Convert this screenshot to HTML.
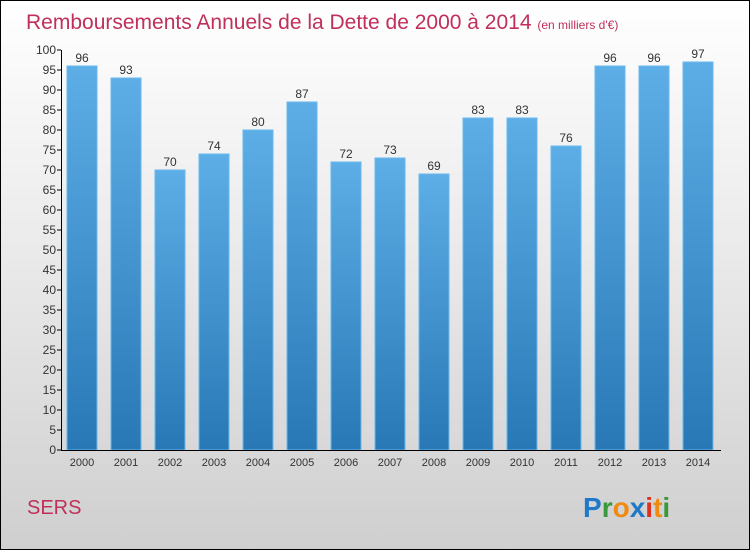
<!DOCTYPE html>
<html><head><meta charset="utf-8"><style>
html,body{margin:0;padding:0}
body{width:750px;height:550px;overflow:hidden;font-family:"Liberation Sans",sans-serif}
#frame{position:absolute;left:0;top:0;width:748px;height:548px;border:1px solid #000;background:linear-gradient(#ffffff,#e8e8e8 50%,#cfcfcf)}
</style></head><body>
<div id="frame">
<svg width="750" height="550" style="position:absolute;left:-1px;top:-1px" id="chart">
<defs><linearGradient id="bg" x1="0" y1="0" x2="0" y2="1"><stop offset="0" stop-color="#5daee6"/><stop offset="1" stop-color="#2878b6"/></linearGradient></defs>
<text x="26" y="29" font-size="21" fill="#c0305a">Remboursements Annuels de la Dette de 2000 à 2014 <tspan font-size="12">(en milliers d'€)</tspan></text>
<text x="27" y="514" font-size="20" fill="#c0305a">SERS</text>
<g id="plot"></g>
<text x="583" y="517" font-size="28" font-weight="bold"><tspan fill="#1f78c8">P</tspan><tspan fill="#3a9a3a">r</tspan><tspan fill="#f08a10">o</tspan><tspan fill="#1f78c8">x</tspan><tspan fill="#e03020">i</tspan><tspan fill="#f08a10">t</tspan><tspan fill="#3a9a3a">i</tspan></text>
</svg>
</div>
<script>
const categories=["2000","2001","2002","2003","2004","2005","2006","2007","2008","2009","2010","2011","2012","2013","2014"];
const values=[96,93,70,74,80,87,72,73,69,83,83,76,96,96,97];
const yTicks=[0,5,10,15,20,25,30,35,40,45,50,55,60,65,70,75,80,85,90,95,100];
const NS="http://www.w3.org/2000/svg";
const g=document.getElementById('plot');
const y=v=>450-v*4;
const x=i=>82+i*44;
function mk(t,a){const e=document.createElementNS(NS,t);for(const k in a)e.setAttribute(k,a[k]);g.appendChild(e);return e;}
values.forEach((v,i)=>{
 const r=mk('rect',{x:x(i)-15,y:y(v),width:30,height:450-y(v),fill:'url(#bg)',stroke:'#6ab8ee','stroke-width':1});
 
 
 const t=mk('text',{x:x(i),y:y(v)-4,'font-size':12,fill:'#333','text-anchor':'middle'});t.textContent=v;
 
 
 const c=mk('text',{x:x(i),y:466,'font-size':11,fill:'#333','text-anchor':'middle'});c.textContent=categories[i];
 
 
});
yTicks.forEach(v=>{
 mk('line',{x1:57,x2:61,y1:y(v),y2:y(v),stroke:'#000'});
 const t=mk('text',{x:56,y:y(v)+4,'font-size':12,fill:'#333','text-anchor':'end'});t.textContent=v;
 
 
});
const ya=mk('line',{x1:61.5,x2:61.5,y1:50,y2:450,stroke:'#000'});


const xa=mk('line',{x1:61,x2:721,y1:450.5,y2:450.5,stroke:'#000'});


</script>
</body></html>
